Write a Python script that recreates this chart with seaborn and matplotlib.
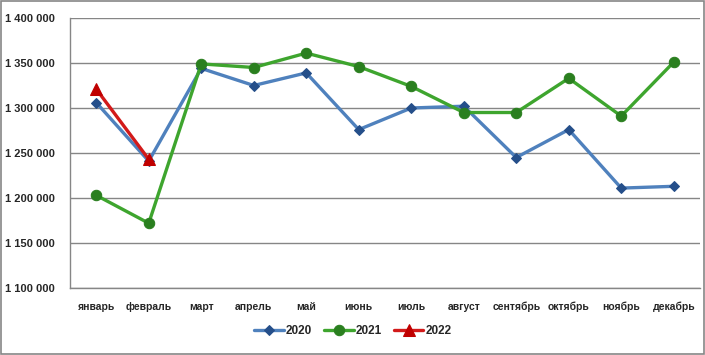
import numpy as np
import pandas as pd
import matplotlib
matplotlib.use('Agg')
import matplotlib.pyplot as plt
from matplotlib.patches import Rectangle
from matplotlib.ticker import FuncFormatter
import seaborn as sns

months = ['январь', 'февраль', 'март', 'апрель', 'май', 'июнь',
          'июль', 'август', 'сентябрь', 'октябрь', 'ноябрь', 'декабрь']
v2020 = [1306000, 1241000, 1344000, 1325000, 1339000, 1276000,
         1300000, 1302000, 1245000, 1276000, 1211000, 1213000]
v2021 = [1203000, 1172000, 1349000, 1345000, 1361000, 1346000,
         1324000, 1295000, 1295000, 1333000, 1291000, 1351000]
v2022 = [1321000, 1243000]

sns.set_theme(style='white')
plt.rcParams['font.family'] = ['Liberation Sans', 'DejaVu Sans']

fig = plt.figure(figsize=(7.05, 3.55), dpi=100)
ax = fig.add_axes([70 / 705, 1 - 288 / 355, 630 / 705, 270 / 355])

series = [
    ('2020', months, v2020, '#4f81bd', '#254f8a', 'D', 5.5),
    ('2021', months, v2021, '#3ea52e', '#2a7f1f', 'o', 7.5),
    ('2022', months[:2], v2022, '#d21a1a', '#c00000', '^', 8),
]
for name, xs, ys, lc, mc, mk, ms in series:
    df = pd.DataFrame({'month': xs, 'value': ys})
    sns.lineplot(data=df, x='month', y='value', ax=ax, sort=False,
                 color=lc, linewidth=2.4, marker=mk, markersize=ms,
                 markerfacecolor=mc, markeredgecolor=mc, label=name)

ax.set_xlim(-0.5, 11.5)
ax.set_ylim(1100000, 1400000)
ax.set_yticks(np.arange(1100000, 1400001, 50000))
ax.yaxis.set_major_formatter(FuncFormatter(lambda v, p: f'{int(v):,}'.replace(',', ' ')))
ax.set_xticks(range(12))
ax.set_xticks(np.arange(-0.5, 12, 1), minor=True)
ax.tick_params(axis='x', which='major', length=0, pad=10, labelsize=7.5)
ax.tick_params(axis='x', which='minor', length=5, width=1, color='#868686', direction='out')
ax.tick_params(axis='y', length=3, width=1, color='#868686', direction='out', labelsize=8, pad=8)
for lab in ax.get_xticklabels() + ax.get_yticklabels():
    lab.set_fontweight('bold')
    lab.set_color('#262626')
ax.set_xlabel('')
ax.set_ylabel('')
ax.grid(axis='y', color='#868686', linewidth=1)
ax.set_axisbelow(True)
for s in ['top', 'right']:
    ax.spines[s].set_visible(False)
for s in ['left', 'bottom']:
    ax.spines[s].set_color('#868686')
    ax.spines[s].set_linewidth(1)

ax.get_legend().remove()
h, l = ax.get_legend_handles_labels()
leg = fig.legend(h, l, loc='center', bbox_to_anchor=(353 / 705, 1 - 331 / 355), ncol=3,
                 frameon=False, handlelength=2.5, columnspacing=1.0, handletextpad=0.2,
                 prop={'size': 8.5, 'weight': 'bold'})
for t in leg.get_texts():
    t.set_color('#262626')

fig.patches.append(Rectangle((0.001, 0.002), 0.997, 0.995, transform=fig.transFigure,
                             fill=False, edgecolor='#868686', linewidth=1.2))

fig.savefig('out.png', dpi=100)
